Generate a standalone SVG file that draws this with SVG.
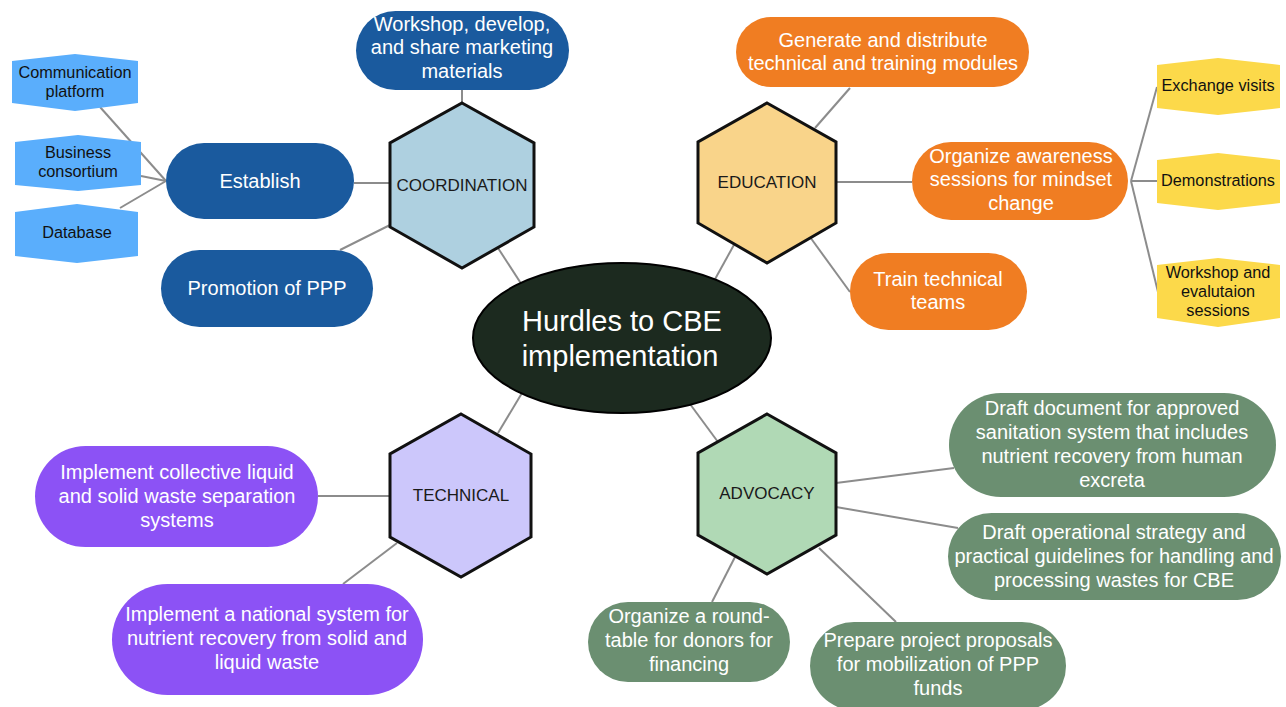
<svg xmlns="http://www.w3.org/2000/svg" width="1286" height="707" viewBox="0 0 1286 707">
<style>
.ln{stroke:#8c8c8c;stroke-width:2;fill:none}
.hex{stroke:#111;stroke-width:3}
.t{font-family:"Liberation Sans",Arial,sans-serif;text-anchor:middle}
.w{fill:#fff;font-size:20px}
.hl{font-family:"Liberation Sans",Arial,sans-serif;font-size:17px;fill:#1a1a1a;text-anchor:middle}
.tag{font-family:"Liberation Sans",Arial,sans-serif;font-size:16.3px;fill:#111;text-anchor:middle}
.blue{fill:#1a5a9e}
.orange{fill:#f07d22}
.green{fill:#6b8f71}
.purple{fill:#8c52f5}
.lb{fill:#5aaefc}
.yl{fill:#fcd94a}
</style>
<rect width="1286" height="707" fill="#fff"/>
<g id="connectors">
<line class="ln" x1="100" y1="107" x2="166" y2="181"/>
<line class="ln" x1="141" y1="176" x2="166" y2="181"/>
<line class="ln" x1="120" y1="208" x2="166" y2="181"/>
<line class="ln" x1="354" y1="183" x2="390" y2="183"/>
<line class="ln" x1="340" y1="250" x2="390" y2="225"/>
<line class="ln" x1="462" y1="90" x2="462" y2="103"/>
<line class="ln" x1="498" y1="248" x2="522" y2="285"/>
<line class="ln" x1="850" y1="88" x2="815" y2="128"/>
<line class="ln" x1="836" y1="182" x2="912" y2="182"/>
<line class="ln" x1="810" y1="237" x2="850" y2="292"/>
<line class="ln" x1="735" y1="243" x2="714" y2="281"/>
<line class="ln" x1="1131" y1="181" x2="1157" y2="87"/>
<line class="ln" x1="1131" y1="181" x2="1157" y2="181"/>
<line class="ln" x1="1131" y1="181" x2="1158" y2="292"/>
<line class="ln" x1="690" y1="404" x2="718" y2="442"/>
<line class="ln" x1="836" y1="483" x2="954" y2="468"/>
<line class="ln" x1="836" y1="507" x2="958" y2="528"/>
<line class="ln" x1="735" y1="557" x2="712" y2="602"/>
<line class="ln" x1="819" y1="548" x2="896" y2="622"/>
<line class="ln" x1="522" y1="393" x2="498" y2="433"/>
<line class="ln" x1="318" y1="496" x2="390" y2="496"/>
<line class="ln" x1="397" y1="543" x2="343" y2="584"/>
</g>
<g id="center">
<ellipse cx="622" cy="338" rx="149" ry="75" fill="#1c2a1f" stroke="#000" stroke-width="2"/>
<text class="t" x="622" y="331" fill="#fff" font-size="29">Hurdles to CBE</text>
<text class="t" x="620" y="366" fill="#fff" font-size="29">implementation</text>
</g>
<g id="coordination">
<polygon class="hex" fill="#aed0e0" points="462,103 534,143 534,227 462,268 390,227 390,143"/>
<text class="hl" x="462" y="191">COORDINATION</text>
</g>
<g id="education">
<polygon class="hex" fill="#f9d48a" points="767,103 836,142 836,223 767,263 698,223 698,142"/>
<text class="hl" x="767" y="188">EDUCATION</text>
</g>
<g id="advocacy">
<polygon class="hex" fill="#b0d9b5" points="767,414 836,453 836,535 767,574 698,535 698,453"/>
<text class="hl" x="767" y="499">ADVOCACY</text>
</g>
<g id="technical">
<polygon class="hex" fill="#ccc7fb" points="461,414 531,454 531,537 461,577 390,537 390,454"/>
<text class="hl" x="461" y="501">TECHNICAL</text>
</g>
<g id="workshop-marketing">
<rect class="blue" x="356" y="11" width="213" height="79" rx="39.5"/>
<text class="t w" x="462" y="31">Workshop, develop,</text>
<text class="t w" x="462" y="54">and share marketing</text>
<text class="t w" x="462" y="78">materials</text>
</g>
<g id="establish">
<rect class="blue" x="166" y="143" width="188" height="76" rx="38"/>
<text class="t w" x="260" y="188">Establish</text>
</g>
<g id="promotion">
<rect class="blue" x="161" y="250" width="212" height="77" rx="38.5"/>
<text class="t w" x="267" y="295">Promotion of PPP</text>
</g>
<g id="communication">
<polygon class="lb" points="12,61 75,54 138,61 138,103 75,111 12,103"/>
<text class="tag" x="75" y="78">Communication</text>
<text class="tag" x="75" y="97">platform</text>
</g>
<g id="business">
<polygon class="lb" points="15,142 78,135 141,142 141,185 78,191 15,185"/>
<text class="tag" x="78" y="158">Business</text>
<text class="tag" x="78" y="177">consortium</text>
</g>
<g id="database">
<polygon class="lb" points="15,212 77,204 138,212 138,256 77,263 15,256"/>
<text class="tag" x="77" y="238">Database</text>
</g>
<g id="generate">
<rect class="orange" x="736" y="17" width="293" height="70" rx="35"/>
<text class="t w" x="883" y="47">Generate and distribute</text>
<text class="t w" x="883" y="70">technical and training modules</text>
</g>
<g id="awareness">
<rect class="orange" x="912" y="142" width="216" height="78" rx="39"/>
<text class="t w" x="1021" y="163">Organize awareness</text>
<text class="t w" x="1021" y="186">sessions for mindset</text>
<text class="t w" x="1021" y="210">change</text>
</g>
<g id="train">
<rect class="orange" x="850" y="253" width="177" height="77" rx="38.5"/>
<text class="t w" x="938" y="286">Train technical</text>
<text class="t w" x="938" y="309">teams</text>
</g>
<g id="exchange">
<polygon class="yl" points="1157,65 1218,58 1280,65 1280,108 1218,115 1157,108"/>
<text class="tag" x="1218" y="91">Exchange visits</text>
</g>
<g id="demonstrations">
<polygon class="yl" points="1157,160 1218,153 1280,160 1280,203 1218,210 1157,203"/>
<text class="tag" x="1218" y="186">Demonstrations</text>
</g>
<g id="workshop-eval">
<polygon class="yl" points="1157,265 1218,258 1280,265 1280,318 1218,327 1157,318"/>
<text class="tag" x="1218" y="278">Workshop and</text>
<text class="tag" x="1218" y="297">evalutaion</text>
<text class="tag" x="1218" y="316">sessions</text>
</g>
<g id="draft-document">
<rect class="green" x="949" y="393" width="327" height="104" rx="52"/>
<text class="t w" x="1112" y="415">Draft document for approved</text>
<text class="t w" x="1112" y="439">sanitation system that includes</text>
<text class="t w" x="1112" y="463">nutrient recovery from human</text>
<text class="t w" x="1112" y="487">excreta</text>
</g>
<g id="draft-operational">
<rect class="green" x="948" y="513" width="333" height="87" rx="43.5"/>
<text class="t w" x="1114" y="539">Draft operational strategy and</text>
<text class="t w" x="1114" y="563">practical guidelines for handling and</text>
<text class="t w" x="1114" y="587">processing wastes for CBE</text>
</g>
<g id="roundtable">
<rect class="green" x="588" y="602" width="202" height="80" rx="40"/>
<text class="t w" x="689" y="623">Organize a round-</text>
<text class="t w" x="689" y="647">table for donors for</text>
<text class="t w" x="689" y="671">financing</text>
</g>
<g id="prepare">
<rect class="green" x="810" y="622" width="256" height="88" rx="44"/>
<text class="t w" x="938" y="647">Prepare project proposals</text>
<text class="t w" x="938" y="671">for mobilization of PPP</text>
<text class="t w" x="938" y="695">funds</text>
</g>
<g id="collective">
<rect class="purple" x="35" y="446" width="283" height="101" rx="50.5"/>
<text class="t w" x="177" y="479">Implement collective liquid</text>
<text class="t w" x="177" y="503">and solid waste separation</text>
<text class="t w" x="177" y="527">systems</text>
</g>
<g id="national">
<rect class="purple" x="112" y="584" width="311" height="111" rx="55.5"/>
<text class="t w" x="267" y="621">Implement a national system for</text>
<text class="t w" x="267" y="645">nutrient recovery from solid and</text>
<text class="t w" x="267" y="669">liquid waste</text>
</g>
</svg>
